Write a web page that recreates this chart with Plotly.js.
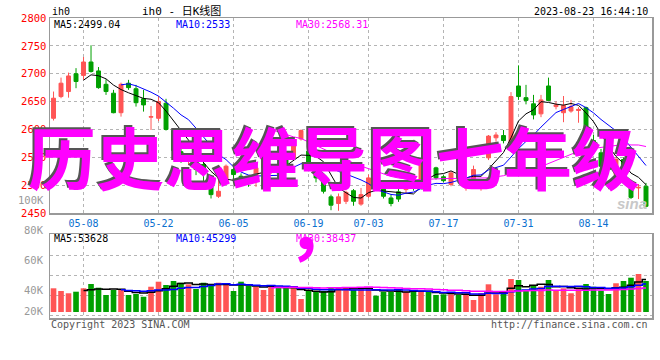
<!DOCTYPE html>
<html><head><meta charset="utf-8">
<script src="https://cdn.plot.ly/plotly-3.0.1.min.js"></script>
<style>html,body{margin:0;padding:0;background:#fff}</style>
</head><body><div id="chart" style="width:660px;height:360px"></div>
<script>
const dates = ['04-27','04-28','05-04','05-05','05-08','05-09','05-10','05-11','05-12','05-15',
 '05-16','05-17','05-18','05-19','05-22','05-23','05-24','05-25','05-26','05-29',
 '05-30','05-31','06-01','06-02','06-05','06-06','06-07','06-08','06-09','06-12',
 '06-13','06-14','06-15','06-16','06-19','06-20','06-21','06-26','06-27','06-28',
 '06-29','06-30','07-03','07-04','07-05','07-06','07-07','07-10','07-11','07-12',
 '07-13','07-14','07-17','07-18','07-19','07-20','07-21','07-24','07-25','07-26',
 '07-27','07-28','07-31','08-01','08-02','08-03','08-04','08-07','08-08','08-09',
 '08-10','08-11','08-14','08-15','08-16','08-17','08-18','08-21','08-22','08-23'];
const openP = [2620,2659,2668,2700,2697,2721,2705,2681,2665,2630,
 2683,2673,2655,2622,2620,2647,2598,2560,2543,2552,
 2537,2510,2480,2507,2528,2516,2512,2507,2531,2525,
 2534,2549,2549,2583,2561,2534,2513,2479,2467,2471,
 2490,2466,2480,2513,2495,2477,2488,2492,2507,2498,
 2549,2531,2515,2501,2520,2495,2505,2495,2549,2585,
 2589,2570,2678,2657,2646,2628,2678,2641,2630,2633,
 2634,2639,2580,2558,2535,2519,2546,2501,2495,2498];
const highP = [2668,2693,2702,2710,2730,2751,2712,2690,2671,2684,
 2689,2680,2671,2642,2660,2655,2602,2566,2550,2556,
 2541,2516,2530,2537,2532,2521,2517,2537,2553,2538,
 2540,2556,2582,2600,2566,2538,2516,2483,2485,2490,
 2493,2495,2519,2516,2500,2483,2495,2505,2512,2548,
 2553,2533,2518,2525,2524,2515,2535,2510,2590,2595,
 2599,2667,2715,2680,2662,2662,2693,2650,2660,2653,
 2640,2641,2590,2565,2545,2550,2550,2504,2502,2504];
const lowP = [2616,2656,2657,2674,2689,2702,2673,2662,2629,2623,
 2671,2641,2632,2599,2615,2598,2558,2540,2536,2518,
 2492,2476,2477,2504,2508,2500,2497,2497,2527,2520,
 2516,2534,2546,2580,2525,2505,2485,2455,2454,2466,
 2463,2463,2477,2497,2476,2462,2470,2485,2490,2495,
 2538,2510,2505,2498,2506,2490,2500,2490,2545,2578,
 2575,2568,2653,2645,2618,2622,2652,2636,2613,2630,
 2612,2580,2555,2530,2520,2515,2518,2475,2475,2460];
const closeP = [2656,2683,2696,2686,2721,2704,2675,2668,2630,2681,
 2675,2648,2644,2623,2650,2600,2562,2548,2544,2528,
 2521,2483,2489,2534,2519,2507,2508,2531,2549,2534,
 2522,2537,2579,2598,2531,2513,2489,2464,2479,2487,
 2471,2483,2513,2500,2480,2467,2475,2501,2498,2545,
 2540,2513,2508,2522,2512,2510,2528,2507,2588,2590,
 2580,2659,2659,2652,2626,2653,2652,2644,2643,2641,
 2636,2585,2565,2534,2528,2546,2522,2478,2496,2462];
const volume = [39100,34700,30900,33500,39100,46200,40100,28100,36300,38000,
 28100,29700,25200,41700,50000,44600,51200,48300,45700,38000,
 48300,46200,48300,46200,34700,50000,42900,41700,36300,41700,
 41700,40800,39100,21500,36300,33500,34700,40100,40100,40100,
 36300,40100,39100,26900,33500,33500,38000,33500,33000,33500,
 33000,28100,29200,29200,28100,30900,19800,30900,45700,29200,
 34700,54500,52800,36300,42900,41700,52800,34700,39100,30900,
 39100,46200,41700,35100,29700,47400,51200,56600,62700,51200];
const tickDates = ['05-08','05-22','06-05','06-19','07-03','07-17','07-31','08-14'];
const priceLabels = {ma5:'MA5:2499.04', ma10:'MA10:2533', ma30:'MA30:2568.31'};
const volLabels = {ma5:'MA5:53628', ma10:'MA10:45299', ma30:'MA30:38437'};
const volTickText = ['100K','80K','60K','40K','20K'];
const overlayText = '历史思维导图七年级';

const RED = '#FF5555', GREEN = '#00A000';

function movingAvg(arr, n){
  return arr.map((v,i)=>{
    if(i<n-1) return null;
    let s=0; for(let k=i-n+1;k<=i;k++) s+=arr[k];
    return s/n;
  });
}
const volColors = closeP.map((c,i)=> c>=openP[i] ? RED : GREEN);

const traces = [
  {type:'candlestick', x:dates, open:openP, high:highP, low:lowP, close:closeP,
   xaxis:'x', yaxis:'y', hoverinfo:'skip', whiskerwidth:0,
   increasing:{line:{color:RED,width:1}, fillcolor:RED},
   decreasing:{line:{color:GREEN,width:1}, fillcolor:GREEN}},
  {type:'scatter', mode:'lines', x:dates, y:movingAvg(closeP,5), line:{color:'#000',width:1}, xaxis:'x', yaxis:'y', hoverinfo:'skip'},
  {type:'scatter', mode:'lines', x:dates, y:movingAvg(closeP,10), line:{color:'#0000FF',width:1}, xaxis:'x', yaxis:'y', hoverinfo:'skip'},
  {type:'scatter', mode:'lines', x:dates, y:movingAvg(closeP,30), line:{color:'#FF00FF',width:1}, xaxis:'x', yaxis:'y', hoverinfo:'skip'},
  {type:'bar', x:dates, y:volume, marker:{color:volColors, line:{width:0}}, xaxis:'x2', yaxis:'y2', hoverinfo:'skip'},
  {type:'scatter', mode:'lines', x:dates, y:movingAvg(volume,5), line:{color:'#000',width:1.5,shape:'hvh'}, xaxis:'x2', yaxis:'y2', hoverinfo:'skip'},
  {type:'scatter', mode:'lines', x:dates, y:movingAvg(volume,10), line:{color:'#0000FF',width:1.5,shape:'hvh'}, xaxis:'x2', yaxis:'y2', hoverinfo:'skip'},
  {type:'scatter', mode:'lines', x:dates, y:movingAvg(volume,30), line:{color:'#FF00FF',width:1.5,shape:'hvh'}, xaxis:'x2', yaxis:'y2', hoverinfo:'skip'}
];

// pixel -> paper helpers (plot area x 50..652, y 18..318)
const PX = X => (X-50)/602, PY = Y => (318-Y)/300;
const MONO = 'DejaVu Sans Mono, monospace';
function note(text, X, Y, color, xanchor, size, family, extra){
  return Object.assign({text:text, x:PX(X), y:PY(Y), xref:'paper', yref:'paper',
    xanchor:xanchor||'left', yanchor:'middle', showarrow:false,
    font:{family:family||MONO, size:size||10, color:color||'#000'}}, extra||{});
}
const annotations = [
  note('ih0', 50, 12, '#000'),
  note('ih0 - 日K线图', 140, 11, '#000', 'left', 11, 'DejaVu Sans Mono, Noto Sans CJK SC'),
  note('2023-08-23 16:44:10', 650, 12, '#000', 'right'),
  note(priceLabels.ma5, 52, 24, '#000'),
  note(priceLabels.ma10, 174, 24, '#0000FF'),
  note(priceLabels.ma30, 294, 24, '#FF00FF'),
  note(volLabels.ma5, 52, 238, '#000'),
  note(volLabels.ma10, 174, 238, '#0000FF'),
  note(volLabels.ma30, 294, 238, '#FF00FF'),
  note(volTickText[0], 46, 200, '#999', 'right', 10.5),
  note(volTickText[1], 46, 230, '#999', 'right', 10.5),
  note(volTickText[2], 46, 260, '#999', 'right', 10.5),
  note(volTickText[3], 46, 290, '#999', 'right', 10.5),
  note(volTickText[4], 46, 311, '#999', 'right', 10.5),
  note('Copyright 2023 SINA.COM', 49, 324, '#555'),
  note('http://finance.sina.com.cn', 650, 324, '#555', 'right'),
  note('sina', 632, 203, '#c8c8c8', 'center', 15, 'Liberation Sans', {font:{family:'Liberation Sans', size:15, color:'#c8c8c8', weight:'bold', style:'italic'}}),
  // big overlay text with shadow
  note(overlayText, 332, 153, '#555', 'center', 68, 'Noto Sans CJK SC', {font:{family:'Noto Sans CJK SC', size:68, color:'#555555', weight:'bold'}}),
  note(overlayText, 334, 155, '#FF00FF', 'center', 68, 'Noto Sans CJK SC', {font:{family:'Noto Sans CJK SC', size:68, color:'#FF00FF', weight:'bold'}}),
  note('，', 285, 223, '#FF00FF', 'left', 68, 'Noto Sans CJK SC', {font:{family:'Noto Sans CJK SC', size:68, color:'#FF00FF', weight:'bold'}})
];

const gridCol = '#b4b4b4';
const layout = {
  width:660, height:360, margin:{l:50, r:8, t:18, b:42},
  paper_bgcolor:'#fff', plot_bgcolor:'#fff', showlegend:false,
  boxgap:0.25, bargap:0.25,
  font:{family:MONO, size:10, color:'#000'},
  xaxis:{type:'category', domain:[0,1], anchor:'y', range:[-0.47,79.8], tickmode:'array',
    tickvals:tickDates, ticktext:tickDates, showgrid:true, gridcolor:gridCol, griddash:'dot', gridwidth:1,
    showline:true, linecolor:'#999', linewidth:1.5, mirror:true, ticks:'',
    tickfont:{family:MONO, color:'#0A6FCF', size:10}, rangeslider:{visible:false}, zeroline:false, fixedrange:true},
  yaxis:{domain:[0.35,1], anchor:'x', range:[2450,2800], tick0:2450, dtick:50,
    showgrid:true, gridcolor:gridCol, griddash:'dot', gridwidth:1,
    showline:true, linecolor:'#999', linewidth:1.5, mirror:true, ticks:'',
    tickfont:{family:MONO, color:'#FF0000', size:10.5}, zeroline:false, fixedrange:true},
  xaxis2:{type:'category', domain:[0,1], anchor:'y2', range:[-0.47,79.8], tickmode:'array',
    tickvals:tickDates, showticklabels:false, showgrid:true, gridcolor:gridCol, griddash:'dot', gridwidth:1,
    showline:true, linecolor:'#999', linewidth:1.5, mirror:true, ticks:'', zeroline:false, fixedrange:true},
  yaxis2:{domain:[0,0.28], anchor:'x2', range:[-9900,128700], tick0:28050, dtick:33000,
    showticklabels:false, showgrid:true, gridcolor:gridCol, griddash:'dot', gridwidth:1,
    showline:true, linecolor:'#999', linewidth:1.5, mirror:true, ticks:'', zeroline:false, fixedrange:true},
  annotations:annotations
};
Plotly.newPlot('chart', traces, layout, {staticPlot:true, displayModeBar:false});
</script></body></html>
